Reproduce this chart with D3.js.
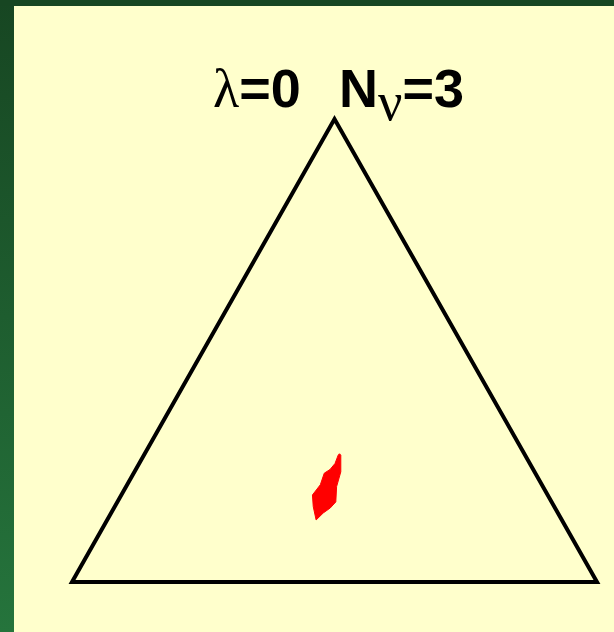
<!DOCTYPE html>
<html>
<head>
<meta charset="utf-8">
<script src="https://cdn.jsdelivr.net/npm/d3@7"></script>
<style>
  html, body { margin: 0; padding: 0; background: #174622; }
  svg { display: block; }
</style>
</head>
<body>
<script>
// Allowed region in the flavour triangle, as fractions of the top and
// bottom-right components (bottom-left component is the remainder).
const regionTop   = [0.277, 0.274, 0.238, 0.206, 0.173, 0.160, 0.149, 0.134, 0.163, 0.188, 0.210, 0.235, 0.243, 0.256, 0.274];
const regionRight = [0.371, 0.375, 0.393, 0.401, 0.416, 0.412, 0.404, 0.398, 0.378, 0.364, 0.368, 0.363, 0.370, 0.373, 0.370];

// Triangle corners in (top, right) fractions: bottom-left, bottom-right, apex
const cornerTop   = [0, 0, 1];
const cornerRight = [0, 1, 0];

const W = 614, H = 632;

const svg = d3.select("body").append("svg")
  .attr("width", W).attr("height", H);

// Slide frame: dark green, lightening towards the bottom
const defs = svg.append("defs");
const grad = defs.append("linearGradient")
  .attr("id", "frame").attr("x1", 0).attr("y1", 0).attr("x2", 0).attr("y2", 1);
grad.append("stop").attr("offset", "0%").attr("stop-color", "#174622");
grad.append("stop").attr("offset", "100%").attr("stop-color", "#25743c");
svg.append("rect").attr("width", W).attr("height", H).attr("fill", "url(#frame)");
svg.append("rect").attr("x", 0).attr("y", 0).attr("width", W).attr("height", 6).attr("fill", "#174622");

// Light yellow panel
svg.append("rect").attr("x", 14).attr("y", 6)
  .attr("width", W - 14).attr("height", H - 6).attr("fill", "#ffffcc");

// Ternary projection: horizontal position from (right + top/2), vertical from top
const x = d3.scaleLinear().domain([0, 1]).range([72, 597]);
const y = d3.scaleLinear().domain([0, 1]).range([582, 119]);
const project = (t, r) => [x(r + t / 2), y(t)];

const line = d3.line().curve(d3.curveLinearClosed);

// Allowed region
const regionPts = regionTop.map((t, i) => project(t, regionRight[i]));
svg.append("path")
  .attr("d", line(regionPts))
  .attr("fill", "#ff0000")
  .attr("stroke", "#ff0000")
  .attr("stroke-width", 1);

// Triangle outline
const cornerPts = cornerTop.map((t, i) => project(t, cornerRight[i]));
svg.append("path")
  .attr("d", line(cornerPts))
  .attr("fill", "none")
  .attr("stroke", "#000")
  .attr("stroke-width", 4)
  .attr("stroke-linejoin", "miter");

// Title
const title = svg.append("text")
  .attr("y", 107)
  .attr("font-family", "'Liberation Sans', Arial, sans-serif")
  .attr("font-weight", "bold")
  .attr("font-size", 54)
  .attr("fill", "#000");
title.append("tspan").attr("x", 213)
  .attr("font-family", "'Liberation Serif', 'Times New Roman', serif")
  .attr("font-weight", "normal")
  .text("λ");
title.append("tspan").text("=0");
title.append("tspan").attr("x", 339).text("N");
title.append("tspan")
  .attr("font-family", "'Liberation Serif', 'Times New Roman', serif")
  .attr("font-weight", "normal")
  .attr("dy", 13)
  .text("ν");
title.append("tspan").attr("dy", -13).text("=3");
</script>
</body>
</html>
